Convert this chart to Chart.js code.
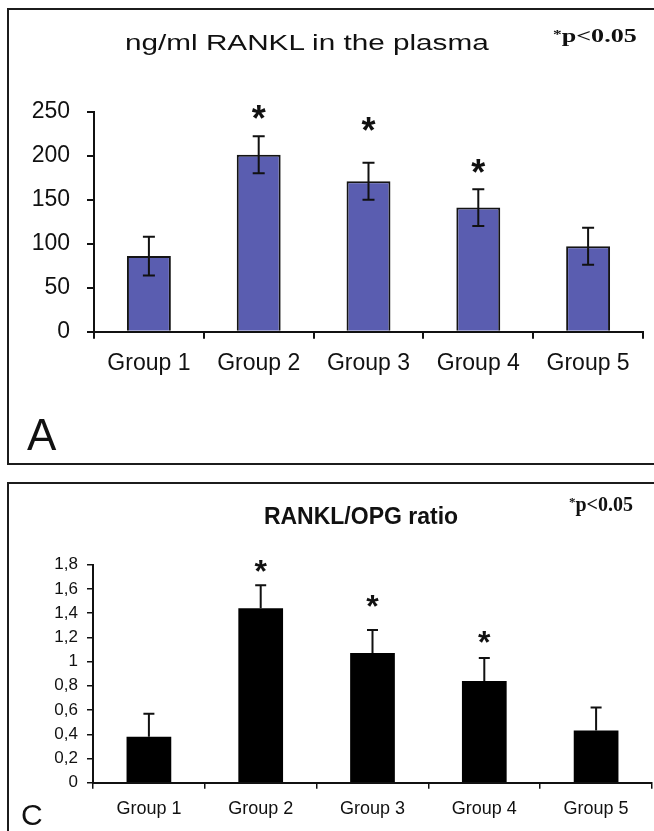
<!DOCTYPE html>
<html>
<head>
<meta charset="utf-8">
<script src="https://cdn.jsdelivr.net/npm/chart.js@4.4.1/dist/chart.umd.min.js"></script>
<style>
html, body { margin:0; padding:0; width:654px; height:831px; overflow:hidden; background:#fff; }
.frame { position:absolute; border:2px solid #1c1c1c; box-sizing:border-box; }
.txt { position:absolute; white-space:nowrap; line-height:1; color:#111; }
canvas { position:absolute; left:0; }
</style>
</head>
<body>
<div class="frame" style="left:7px;top:8px;width:700px;height:457px"></div>
<div class="frame" style="left:7px;top:482px;width:700px;height:400px"></div>
<canvas id="rankl" width="654" height="475" style="top:0"></canvas>
<canvas id="ratio" width="654" height="356" style="top:475px"></canvas>

<div class="txt" style="left:125px;top:29.7px;font:22px 'Liberation Sans',Arial,sans-serif;transform:scaleX(1.35);transform-origin:0 0">ng/ml RANKL in the plasma</div>
<div class="txt" style="left:553px;top:25.7px;font:bold 18px 'Liberation Serif','Times New Roman',serif;transform:scaleX(1.45);transform-origin:0 0"><span style="font-size:12px;vertical-align:4px">*</span>p&lt;0.05</div>
<div class="txt" style="left:27px;top:410px;font:44px 'Liberation Sans',Arial,sans-serif">A</div>

<div class="txt" style="left:0;width:722px;text-align:center;top:502.5px;font:bold 23px 'Liberation Sans',Arial,sans-serif">RANKL/OPG ratio</div>
<div class="txt" style="left:569px;top:493px;font:bold 20px 'Liberation Serif','Times New Roman',serif"><span style="font-size:13px;vertical-align:5px">*</span>p&lt;0.05</div>
<div class="txt" style="left:21px;top:798px;font:30px 'Liberation Sans',Arial,sans-serif">C</div>

<script>
const groups = ['Group 1', 'Group 2', 'Group 3', 'Group 4', 'Group 5'];

// panel A: ng/ml RANKL in the plasma
const ranklMeans = [86, 201, 171, 141, 97];
const ranklErr = [22, 21, 21, 21, 21];
const ranklStars = [null, 251, 237, 189, null];

// panel C: RANKL/OPG ratio
const ratioMeans = [0.38, 1.44, 1.07, 0.84, 0.43];
const ratioErr = [0.19, 0.19, 0.19, 0.19, 0.19];
const ratioStars = [null, 1.80, 1.51, 1.22, null];

const sans = "'Liberation Sans', Arial, sans-serif";
const ink = '#111';

const errorBars = {
    id: 'errorBars',
    afterDatasetsDraw(chart, args, opts) {
        const ctx = chart.ctx;
        const y = chart.scales.y;
        const means = chart.data.datasets[0].data;
        const half = opts.cap / 2;
        ctx.save();
        ctx.strokeStyle = ink;
        ctx.fillStyle = ink;
        ctx.lineWidth = opts.lineWidth;
        chart.getDatasetMeta(0).data.forEach((bar, i) => {
            const top = y.getPixelForValue(means[i] + opts.errors[i]);
            const bottom = opts.twoSided ? y.getPixelForValue(means[i] - opts.errors[i]) : bar.y;
            ctx.beginPath();
            ctx.moveTo(bar.x, top);
            ctx.lineTo(bar.x, bottom);
            ctx.moveTo(bar.x - half, top);
            ctx.lineTo(bar.x + half, top);
            if (opts.twoSided) {
                ctx.moveTo(bar.x - half, bottom);
                ctx.lineTo(bar.x + half, bottom);
            }
            ctx.stroke();
            if (opts.stars[i] != null) {
                ctx.font = 'bold ' + opts.starSize + 'px ' + sans;
                ctx.textAlign = 'center';
                ctx.textBaseline = 'alphabetic';
                ctx.fillText('*', bar.x, y.getPixelForValue(opts.stars[i]) + 0.55 * opts.starSize);
            }
        });
        ctx.restore();
    }
};

new Chart(document.getElementById('rankl'), {
    type: 'bar',
    data: {
        labels: groups,
        datasets: [{
            data: ranklMeans,
            backgroundColor: '#5a5db0',
            borderColor: '#141414',
            borderWidth: 2,
            barPercentage: 0.4,
            categoryPercentage: 1
        }]
    },
    options: {
        responsive: false,
        animation: false,
        layout: { padding: { left: 0, right: 11, top: 111.7, bottom: 93.3 } },
        plugins: {
            legend: { display: false },
            tooltip: { enabled: false },
            errorBars: { errors: ranklErr, stars: ranklStars, twoSided: true, cap: 12, lineWidth: 2, starSize: 36 }
        },
        scales: {
            x: {
                grid: { drawOnChartArea: false, tickLength: 7, color: ink, lineWidth: 2 },
                border: { color: ink, width: 2 },
                ticks: { font: { family: sans, size: 23 }, color: ink, padding: 11 },
                afterFit(s) { s.height = 50; }
            },
            y: {
                min: 0,
                max: 250,
                grid: { drawOnChartArea: false, tickLength: 7, color: ink, lineWidth: 2 },
                border: { color: ink, width: 2 },
                ticks: { stepSize: 50, font: { family: sans, size: 23 }, color: ink, padding: 17 },
                afterFit(s) { s.width = 94; }
            }
        }
    },
    plugins: [errorBars]
});

new Chart(document.getElementById('ratio'), {
    type: 'bar',
    data: {
        labels: groups,
        datasets: [{
            data: ratioMeans,
            backgroundColor: '#000',
            borderWidth: 0,
            barPercentage: 0.4,
            categoryPercentage: 1
        }]
    },
    options: {
        responsive: false,
        animation: false,
        layout: { padding: { left: 0, right: 2, top: 89.7, bottom: 8.3 } },
        plugins: {
            legend: { display: false },
            tooltip: { enabled: false },
            errorBars: { errors: ratioErr, stars: ratioStars, twoSided: false, cap: 11, lineWidth: 2, starSize: 32 }
        },
        scales: {
            x: {
                grid: { drawOnChartArea: false, tickLength: 6, color: ink, lineWidth: 1.5 },
                border: { color: ink, width: 2 },
                ticks: { font: { family: sans, size: 18 }, color: ink, padding: 10 },
                afterFit(s) { s.height = 40; }
            },
            y: {
                min: 0,
                max: 1.8,
                grid: { drawOnChartArea: false, tickLength: 6, color: ink, lineWidth: 1.5 },
                border: { color: ink, width: 2 },
                ticks: {
                    stepSize: 0.2,
                    font: { family: sans, size: 17 },
                    color: ink,
                    padding: 9,
                    callback: v => String(Math.round(v * 10) / 10).replace('.', ',')
                },
                afterFit(s) { s.width = 93; }
            }
        }
    },
    plugins: [errorBars]
});
</script>
</body>
</html>
